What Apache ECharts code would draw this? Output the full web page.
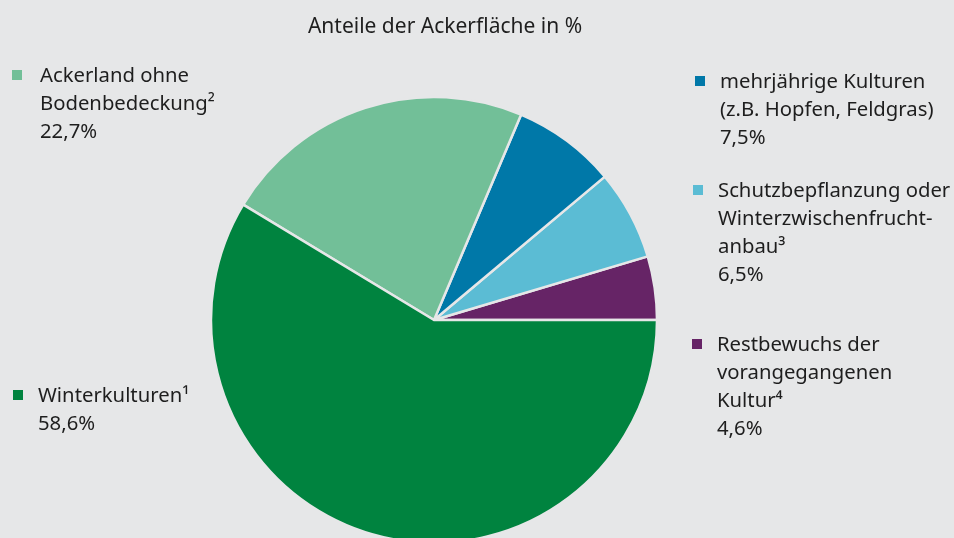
<!DOCTYPE html>
<html>
<head>
    <meta charset="UTF-8">
    <title>Anteile der Ackerfläche</title>
    <style type="text/css">
        html, body { margin: 0; padding: 0; background: #e6e7e8; }
        #mychart { width: 954px; height: 538px; }
    </style>
</head>
<body>
<div id="mychart"></div>
<script src="https://cdn.jsdelivr.net/npm/echarts@6/dist/echarts.min.js"></script>
<script>
    // slices, counterclockwise from 3 o'clock
    var names = ['Restbewuchs der vorangegangenen Kultur⁴', 'Schutzbepflanzung oder Winterzwischenfruchtanbau³',
        'mehrjährige Kulturen (z.B. Hopfen, Feldgras)', 'Ackerland ohne Bodenbedeckung²', 'Winterkulturen¹'];
    var labelLines = [
        ['Restbewuchs der', 'vorangegangenen', 'Kultur⁴'],
        ['Schutzbepflanzung oder', 'Winterzwischenfrucht-', 'anbau³'],
        ['mehrjährige Kulturen', '(z.B. Hopfen, Feldgras)'],
        ['Ackerland ohne', 'Bodenbedeckung²'],
        ['Winterkulturen¹']
    ];
    var values = [4.6, 6.5, 7.5, 22.7, 58.6];
    var colors = ['#662466', '#5bbcd4', '#0078a8', '#72bf98', '#00833f'];

    var bg = '#e6e7e8';
    var font = '20.3px "Noto Sans", sans-serif';
    var lh = 28;
    // where each legend block sits: [markerX, textX, firstLineY]
    var spots = [[692, 717, 345], [693, 718, 191], [695, 720, 82], [12, 40, 76], [13, 38, 396]];

    var myChart = echarts.init(document.getElementById('mychart'));

    var graphics = [{
        type: 'text',
        style: {
            text: 'Anteile der Ackerfläche in %',
            x: 445, y: 27, font: '21px "Noto Sans", sans-serif', fill: '#1e1e1e',
            textAlign: 'center', textVerticalAlign: 'middle'
        }
    }];
    for (var i = 0; i < names.length; i++) {
        var s = spots[i];
        graphics.push({
            type: 'rect',
            shape: {x: s[0], y: s[2] - 6, width: 10, height: 10},
            style: {fill: colors[i]}
        });
        var txt = labelLines[i].concat([values[i].toFixed(1).replace('.', ',') + '%']).join('\n');
        graphics.push({
            type: 'text',
            style: {
                text: txt, x: s[1], y: s[2] - lh / 2, font: font, fill: '#1e1e1e',
                lineHeight: lh, textAlign: 'left', textVerticalAlign: 'top'
            }
        });
    }

    var data = [];
    for (var i = 0; i < names.length; i++) {
        data.push({name: names[i], value: values[i], itemStyle: {color: colors[i]}});
    }

    var option = {
        backgroundColor: bg,
        animation: false,
        series: [{
            type: 'pie',
            center: [434, 320],
            radius: 223,
            startAngle: 0,
            clockwise: false,
            label: {show: false},
            labelLine: {show: false},
            emphasis: {disabled: true},
            itemStyle: {borderColor: bg, borderWidth: 2.5},
            data: data
        }],
        graphic: graphics
    };

    myChart.setOption(option);
</script>
</body>
</html>
